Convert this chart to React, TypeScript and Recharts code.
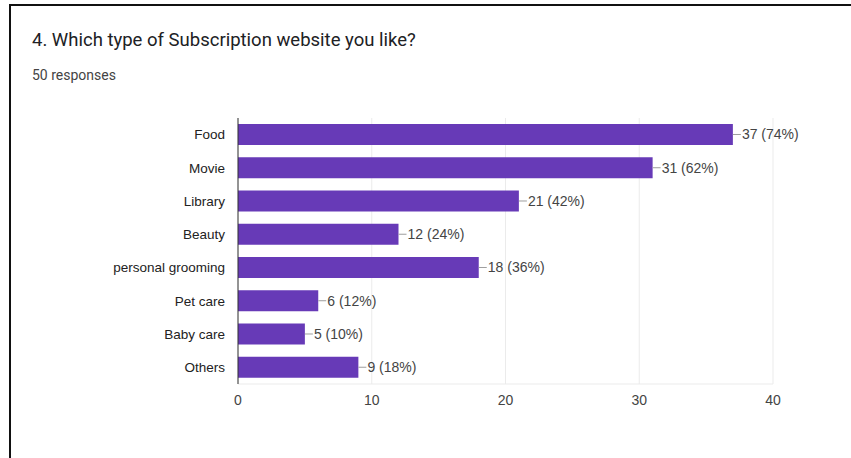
import { BarChart, Bar, XAxis, YAxis, CartesianGrid, LabelList } from "recharts"

const categories = ["Food", "Movie", "Library", "Beauty", "personal grooming", "Pet care", "Baby care", "Others"]
const counts = [37, 31, 21, 12, 18, 6, 5, 9]
const percents = [74, 62, 42, 24, 36, 12, 10, 18]
const xTicks = [0, 10, 20, 30, 40]

const data = categories.map((name, i) => ({ name, count: counts[i], pct: percents[i] }))

const chartFont = "'Liberation Sans', Arial, sans-serif"

function ValueLabel(props: any) {
  const { x, y, width, height, index } = props
  const endX = x + width
  const midY = y + height / 2
  return (
    <g>
      <line x1={endX} y1={midY} x2={endX + 8} y2={midY} stroke="#9e9e9e" strokeWidth={1} />
      <text x={endX + 9} y={midY} dy="0.35em" fontSize={14} fill="#444" fontFamily={chartFont}>
        {counts[index]} ({percents[index]}%)
      </text>
    </g>
  )
}

export default function App() {
  return (
    <div style={{ position: "absolute", left: 0, top: 0, width: 851, height: 458, background: "#fff", overflow: "hidden" }}>
      <div style={{ position: "absolute", left: 9, top: 4, width: 900, height: 500, borderLeft: "2px solid #111", borderTop: "2px solid #111" }} />
      <div style={{ position: "absolute", left: 32, top: 29, fontFamily: "Roboto, sans-serif", fontSize: 18.5, color: "#202124", whiteSpace: "nowrap" }}>
        4. Which type of Subscription website you like?
      </div>
      <div style={{ position: "absolute", left: 32, top: 67, fontFamily: "Roboto, sans-serif", fontSize: 14, color: "#444", whiteSpace: "nowrap" }}>
        50 responses
      </div>
      <div style={{ position: "absolute", left: 0, top: 0 }}>
        <BarChart
          width={851}
          height={458}
          data={data}
          layout="vertical"
          margin={{ top: 118, right: 78, bottom: 44, left: 0 }}
          barCategoryGap="18%"
        >
          <CartesianGrid horizontal={false} stroke="#ebebeb" />
          <XAxis
            type="number"
            domain={[0, 40]}
            ticks={xTicks}
            height={30}
            axisLine={{ stroke: "#ebebeb" }}
            tickLine={false}
            tickSize={0}
            tickMargin={11}
            tick={{ fontSize: 14, fill: "#444", fontFamily: chartFont }}
          />
          <YAxis
            type="category"
            dataKey="name"
            width={238}
            axisLine={{ stroke: "#333" }}
            tickLine={false}
            tickSize={0}
            tickMargin={13}
            tick={{ fontSize: 13.5, fill: "#222", fontFamily: chartFont }}
          />
          <Bar dataKey="count" fill="#673ab7" isAnimationActive={false}>
            <LabelList dataKey="count" content={ValueLabel} />
          </Bar>
        </BarChart>
      </div>
    </div>
  )
}
